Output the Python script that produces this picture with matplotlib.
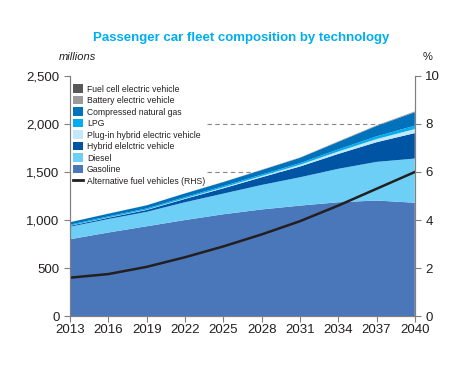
import matplotlib.pyplot as plt
import numpy as np
from matplotlib.patches import Patch
from matplotlib.lines import Line2D

plt.rcParams['font.family'] = ['Liberation Sans', 'DejaVu Sans']

# data (millions of cars)
years = [2013, 2016, 2019, 2022, 2025, 2028, 2031, 2034, 2037, 2040]
gasoline = [800, 870, 935, 1000, 1060, 1110, 1150, 1185, 1203, 1180]
diesel = [130, 140, 150, 185, 215, 255, 295, 348, 402, 460]
hybrid = [10, 14, 20, 35, 55, 80, 112, 155, 205, 265]
plugin = [2, 3, 4, 6, 9, 13, 18, 25, 33, 42]
lpg = [10, 11, 12, 13, 14, 15, 17, 22, 28, 35]
cng = [25, 28, 32, 38, 42, 47, 55, 78, 108, 140]
battery = [1, 1, 1, 1, 2, 2, 3, 3, 4, 5]
fuelcell = [0, 0, 0, 0, 0, 1, 1, 2, 2, 3]
alt_share = [1.6, 1.75, 2.05, 2.45, 2.9, 3.4, 3.95, 4.6, 5.3, 6.0]  # % RHS

names = ["Gasoline", "Diesel", "Hybrid elelctric vehicle", "Plug-in hybrid electric vehicle",
         "LPG", "Compressed natural gas", "Battery electric vehicle", "Fuel cell electric vehicle"]
colors = ["#4a77ba", "#6dcff6", "#0054a4", "#c2e8fa", "#00aeef", "#0072bc", "#9a9a9c", "#58585a"]

fig = plt.figure(figsize=(4.64, 3.65), dpi=100)
ax = fig.add_axes([0.151, 0.134, 0.743, 0.658])

# dashed guide lines (behind areas, starting right of the legend)
for v in [1500, 2000]:
    ax.hlines(v, 2023.7, 2040, colors="#888888", linestyles=(0, (4, 3)), linewidth=0.8, zorder=0)

ax.stackplot(years, gasoline, diesel, hybrid, plugin, lpg, cng, battery, fuelcell,
             colors=colors, linewidth=0, zorder=1)

ax.set_xlim(2013, 2040)
ax.set_ylim(0, 2500)
ax.set_xticks(range(2013, 2041, 3))
ax.set_yticks(range(0, 2501, 500))
ax.set_yticklabels(["0", "500", "1,000", "1,500", "2,000", "2,500"])

ax2 = ax.twinx()
ax2.plot(years, alt_share, color="#231f20", linewidth=1.8)
ax2.set_ylim(0, 10)
ax2.set_yticks(range(0, 11, 2))

spine_c = "#808080"
for a in (ax, ax2):
    for s in a.spines.values():
        s.set_color(spine_c)
    a.spines["top"].set_visible(False)
    a.tick_params(colors=spine_c, labelcolor="#231f20", labelsize=9.5, length=4, width=0.8)
ax.tick_params(axis="x", pad=2)

fig.text(0.52, 0.897, "Passenger car fleet composition by technology", ha="center", va="center",
         color="#00aeef", fontsize=9.5, fontweight="bold")
fig.text(0.167, 0.843, "millions", ha="center", va="center", fontsize=8, style="italic", color="#231f20")
fig.text(0.922, 0.843, "%", ha="center", va="center", fontsize=8, color="#231f20")

handles = [Patch(facecolor=c, edgecolor="none") for c in colors[::-1]]
labels = names[::-1]
handles.append(Line2D([], [], color="#231f20", linewidth=2))
labels.append("Alternative fuel vehicles (RHS)")
leg = ax2.legend(handles, labels, loc="upper left", bbox_to_anchor=(0.008, 0.965), fontsize=6.2,
                 frameon=False, handlelength=1.15, handleheight=1.15, handletextpad=0.5,
                 labelspacing=0.27, borderpad=0.0, borderaxespad=0.0)
for t in leg.get_texts():
    t.set_color("#231f20")

fig.savefig("out.png", dpi=100)
